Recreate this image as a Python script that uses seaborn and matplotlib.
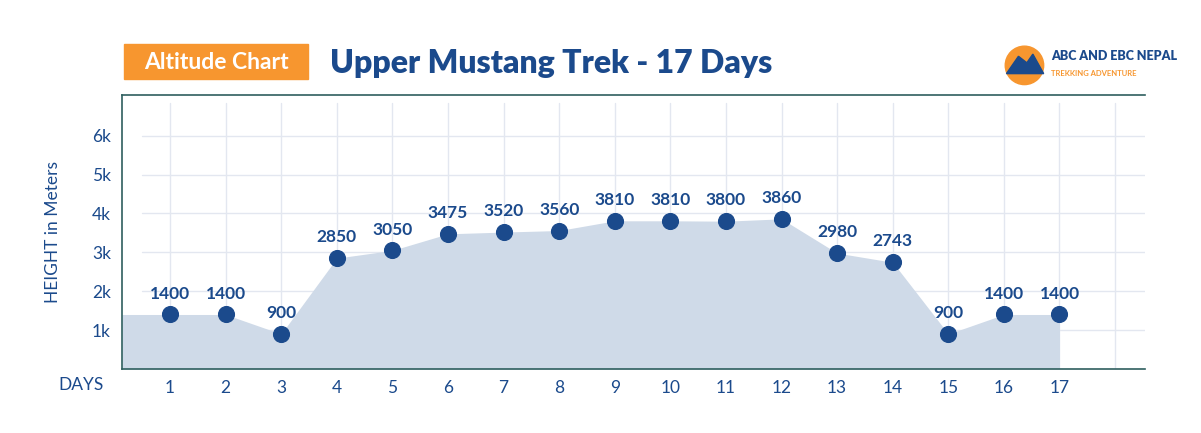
import matplotlib
matplotlib.use("Agg")
import matplotlib.pyplot as plt
import matplotlib.patches as mpatches
import seaborn as sns
import pandas as pd

days = list(range(1, 18))
heights = [1400, 1400, 900, 2850, 3050, 3475, 3520, 3560, 3810, 3810, 3800, 3860, 2980, 2743, 900, 1400, 1400]
ytick_vals = [1000, 2000, 3000, 4000, 5000, 6000]
ytick_labels = ["1k", "2k", "3k", "4k", "5k", "6k"]

navy = "#1b4a8c"
spine = "#2f5f5f"
sns.set_style("white")
plt.rcParams["font.family"] = ["Lato", "DejaVu Sans"]

df = pd.DataFrame({"day": days, "height": heights})
fig = plt.figure(figsize=(12.01, 4.33), dpi=100)
ax = fig.add_axes([0.1016, 0.148, 0.8514, 0.633])
x0, x1 = 0.137, 18.53
ax.set_xlim(x0, x1)
ax.set_ylim(0, 7050)

for d in range(1, 19):
    ax.plot([d, d], [0, 6850], color="#e3e7f0", lw=1, zorder=0)
for v in ytick_vals:
    ax.plot([0.5, x1], [v, v], color="#e3e7f0", lw=1, zorder=0)

fx = [x0] + days + [days[-1]]
fy = [heights[0]] + heights + [0]
ax.fill_between(fx, fy, 0, color="#cfdae8", lw=0, zorder=1)
sns.scatterplot(data=df, x="day", y="height", s=130, color=navy, edgecolor=navy, ax=ax, zorder=3)
for d, h in zip(days, heights):
    ax.text(d, h + 330, str(h), ha="center", va="bottom", fontsize=12.5, fontweight="bold", color=navy)

ax.set_xticks(days)
ax.set_xticklabels([str(d) for d in days], fontsize=12.5, color=navy)
ax.set_yticks(ytick_vals)
ax.set_yticklabels(ytick_labels, fontsize=12.5, color=navy)
ax.tick_params(length=0, pad=8)
ax.set_xlabel("")
ax.set_ylabel("HEIGHT in Meters", fontsize=12.5, color=navy, labelpad=22)
ax.text(-0.04, -0.029, "DAYS", transform=ax.transAxes, ha="center", va="top", fontsize=12.5, color=navy)
for s in ["top", "left", "bottom"]:
    ax.spines[s].set_color(spine)
    ax.spines[s].set_linewidth(1.2)
ax.spines["right"].set_visible(False)

fig.patches.append(mpatches.Rectangle((0.1032, 0.818), 0.1535, 0.08, transform=fig.transFigure, color="#f7962f", zorder=0))
fig.text(0.18, 0.855, "Altitude Chart", ha="center", va="center", fontsize=16.5, color="white", fontweight="bold")
fig.text(0.275, 0.853, "Upper Mustang Trek - 17 Days", ha="left", va="center", fontsize=23, color=navy, fontweight="heavy")
fig.text(0.875, 0.87, "ABC AND EBC NEPAL", ha="left", va="center", fontsize=9, color=navy, fontweight="heavy")
fig.text(0.875, 0.83, "TREKKING ADVENTURE", ha="left", va="center", fontsize=5.5, color="#f7962f", fontweight="bold")
fig.patches.append(mpatches.Ellipse((0.853, 0.849), 0.032, 0.032 * 1201 / 433, transform=fig.transFigure, color="#f7962f"))
fig.patches.append(mpatches.Polygon([(0.838, 0.83), (0.848, 0.87), (0.855, 0.855), (0.86, 0.875), (0.869, 0.83)],
                                    transform=fig.transFigure, color=navy))

fig.savefig("out.png", dpi=100)
